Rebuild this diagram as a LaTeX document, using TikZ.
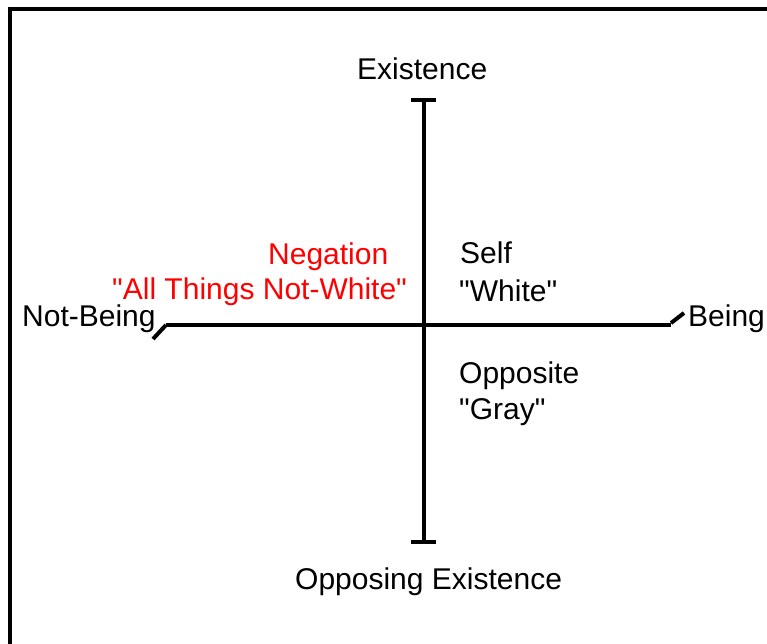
\documentclass[tikz,border=0pt]{standalone}
\usepackage{fontspec}
\setmainfont{Liberation Sans}[Ligatures=TeXOff]
\begin{document}
\begin{tikzpicture}[x=1pt,y=-1pt,
  lbl/.style={anchor=base west,inner sep=0pt,font=\fontsize{30}{34}\selectfont},
  neg/.style={lbl,text={rgb,255:red,255;green,0;blue,0}},
  axis/.style={line width=4pt,black},
  frame/.style={line width=4pt,black}]
\useasboundingbox (0,0) rectangle (767,644);
\clip (0,0) rectangle (767,644);
% frame
\coordinate (fbl) at (10,660);
\coordinate (ftl) at (10,9);
\coordinate (ftr) at (780,9);
\draw[frame] (fbl) -- (ftl) -- (ftr);
% axes
\coordinate (top) at (424,100);
\coordinate (bot) at (424,542);
\coordinate (left) at (166,325);
\coordinate (right) at (671,325);
\draw[axis] (top) -- (bot);
\draw[axis] ([xshift=-13pt]top) -- ([xshift=12pt]top);
\draw[axis] ([xshift=-13pt]bot) -- ([xshift=12pt]bot);
\draw[axis] (left) -- (right);
\coordinate (lslash) at (153,339);
\coordinate (rslash) at (684,313);
\draw[axis] (left) -- (lslash);
\draw[axis] ([yshift=2pt]right) -- (rslash);
% labels
\node[lbl] (exist) at (357,80) {Existence};
\node[lbl] (opp) at (295,589) {Opposing Existence};
\node[lbl] (notb) at (22,326) {Not-Being};
\node[lbl] (being) at (688,326) {Being};
\node[neg] (negation) at (268,264) {Negation};
\node[neg] (allthings) at (112,299) {"All Things Not-White"};
\node[lbl] (self) at (460,263) {Self};
\node[lbl] (white) at (459,301) {"White"};
\node[lbl] (opposite) at (459,383) {Opposite};
\node[lbl] (gray) at (459,419) {"Gray"};
\end{tikzpicture}
\end{document}
